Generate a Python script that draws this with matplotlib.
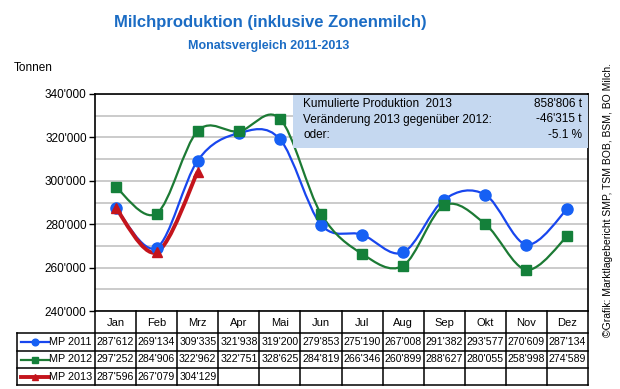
"""
Milchproduktion (inklusive Zonenmilch), Monatsvergleich 2011-2013,
chart with smoothed lines and a data table underneath.
"""
import numpy as np
import matplotlib
matplotlib.use("Agg")
import matplotlib.pyplot as plt
from matplotlib.path import Path
from matplotlib.patches import PathPatch, Rectangle
from matplotlib.ticker import FuncFormatter, MultipleLocator

plt.rcParams["font.family"] = ["Liberation Sans", "DejaVu Sans"]

months = ["Jan", "Feb", "Mrz", "Apr", "Mai", "Jun", "Jul", "Aug", "Sep", "Okt", "Nov", "Dez"]
mp2011 = [287612, 269134, 309335, 321938, 319200, 279853, 275190, 267008, 291382, 293577, 270609, 287134]
mp2012 = [297252, 284906, 322962, 322751, 328625, 284819, 266346, 260899, 288627, 280055, 258998, 274589]
mp2013 = [287596, 267079, 304129]

series = [
    ("MP 2011", mp2011, "#1846ee", "#1660f4", "o", 1.6, 8.0),
    ("MP 2012", mp2012, "#1c7a34", "#14803a", "s", 1.6, 7.0),
    ("MP 2013", mp2013, "#c4141c", "#c4141c", "^", 2.8, 7.5),
]

info_rows = [
    ("Kumulierte Produktion  2013", "858'806 t"),
    ("Veränderung 2013 gegenüber 2012:", "-46'315 t"),
    ("oder:", "-5.1 %"),
]

W, H = 620, 389


def fx(px):
    return px / W


def fy(py):
    return 1 - py / H


def thousands(v, pos=None):
    return f"{int(v):,}".replace(",", "'")


def smooth_path(x, y):
    """Catmull-Rom style bezier through the points (like Excel's smoothed line)."""
    pts = np.column_stack([x, y]).astype(float)
    verts = [pts[0]]
    codes = [Path.MOVETO]
    n = len(pts)
    for i in range(n - 1):
        p0 = pts[i - 1] if i > 0 else pts[i]
        p1, p2 = pts[i], pts[i + 1]
        p3 = pts[i + 2] if i + 2 < n else pts[i + 1]
        c1 = p1 + (p2 - p0) / 6.0
        c2 = p2 - (p3 - p1) / 6.0
        verts += [c1, c2, p2]
        codes += [Path.CURVE4] * 3
    return Path(verts, codes)


fig = plt.figure(figsize=(W / 100, H / 100), dpi=100)

# main plot area
left, right, top, bottom = 95, 588, 94, 311
ax = fig.add_axes([fx(left), fy(bottom), fx(right - left), fy(top) - fy(bottom)])
ax.set_xlim(-0.5, 11.5)
ax.set_ylim(240000, 340000)
ax.yaxis.set_major_locator(MultipleLocator(20000))
ax.yaxis.set_minor_locator(MultipleLocator(10000))
ax.yaxis.set_major_formatter(FuncFormatter(thousands))
ax.grid(True, which="both", axis="y", color="#bdbdbd", lw=1.1)
ax.set_axisbelow(True)
ax.set_xticks([])
ax.tick_params(axis="y", which="major", length=4, width=1, labelsize=8.5, pad=2)
ax.tick_params(axis="y", which="minor", length=0)
for s in ax.spines.values():
    s.set_color("black")
    s.set_linewidth(1.2)

for name, vals, lc, mc, mk, lw, ms in series:
    xs = np.arange(len(vals))
    ax.add_patch(PathPatch(smooth_path(xs, vals), fill=False, ec=lc, lw=lw, zorder=3))
    ax.plot(xs, vals, ls="none", marker=mk, color=mc, ms=ms, zorder=4)

# info box
bx0, bx1, by0, by1 = 293, 588, 95, 148
box = Rectangle((fx(bx0), fy(by1)), fx(bx1 - bx0), fy(by0) - fy(by1),
                transform=fig.transFigure, fc="#c5d8f0", ec="none", zorder=5)
fig.add_artist(box)
for i, (label, val) in enumerate(info_rows):
    yy = 104 + i * 15.5
    fig.text(fx(303), fy(yy), label, fontsize=8.5, va="center", ha="left", zorder=6)
    fig.text(fx(582), fy(yy), val, fontsize=8.5, va="center", ha="right", zorder=6)

# titles
fig.text(fx(270), fy(23), "Milchproduktion (inklusive Zonenmilch)", color="#1b6cc4",
         fontsize=12, fontweight="bold", ha="center", va="center")
fig.text(fx(269), fy(46), "Monatsvergleich 2011-2013", color="#1b6cc4",
         fontsize=9, fontweight="bold", ha="center", va="center")
fig.text(fx(14), fy(68), "Tonnen", fontsize=8.5, ha="left", va="center")
fig.text(fx(608), fy(200), "©Grafik: Marktlagebericht SMP, TSM BOB, BSM, BO Milch.",
         fontsize=7.5, rotation=90, ha="center", va="center")

# data table
tab = fig.add_axes([0, 0, 1, 1])
tab.set_xlim(0, W)
tab.set_ylim(H, 0)
tab.axis("off")
colw = (right - left) / 12
row_y = [311, 333, 351, 368, 385]
lab_x0 = 17
kw = dict(color="black", lw=1.1)

# grid lines of the table
for i in range(13):
    xv = left + i * colw
    tab.plot([xv, xv], [row_y[0], row_y[-1]], **kw)
for j in range(1, 5):
    tab.plot([lab_x0, right], [row_y[j], row_y[j]], **kw)
tab.plot([lab_x0, lab_x0], [row_y[1], row_y[-1]], **kw)
for i, m in enumerate(months):
    tab.text(left + (i + 0.5) * colw, (row_y[0] + row_y[1]) / 2 + 1, m,
             fontsize=8, ha="center", va="center")

for r, (name, vals, lc, mc, mk, lw, ms) in enumerate(series):
    yc = (row_y[r + 1] + row_y[r + 2]) / 2
    tab.plot([21, 49], [yc, yc], color=lc, lw=lw)
    tab.plot([35], [yc], marker=mk, color=mc, ms=ms * 0.6)
    tab.text(49, yc, name, fontsize=7.8, ha="left", va="center")
    for i, v in enumerate(vals):
        tab.text(left + (i + 0.5) * colw, yc, thousands(v), fontsize=7.6,
                 ha="center", va="center")

fig.savefig("out.png", dpi=100)
